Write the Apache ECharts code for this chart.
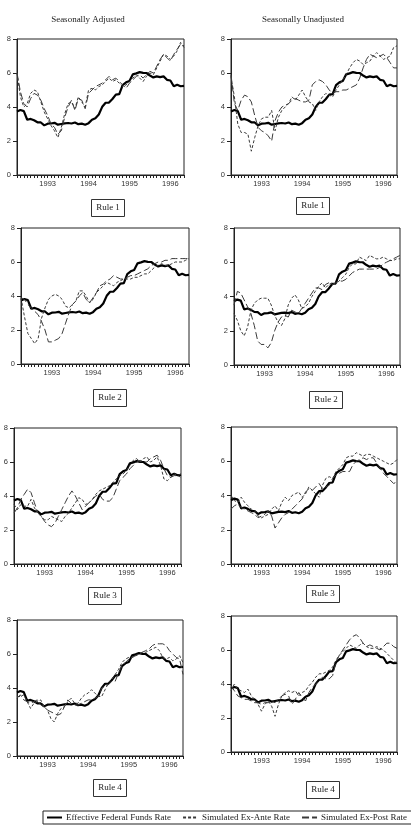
<!DOCTYPE html>
<html>
<head>
<meta charset="utf-8">
<script src="https://cdn.jsdelivr.net/npm/echarts@6/dist/echarts.min.js"></script>
<style>
  html, body { margin: 0; padding: 0; background: #fff; }
  #main { width: 411px; height: 830px; }
</style>
</head>
<body>
<div id="main"></div>
<script>
const months = [
  '1992-04', '1992-05', '1992-06', '1992-07', '1992-08', '1992-09', '1992-10', '1992-11', '1992-12',
  '1993-01', '1993-02', '1993-03', '1993-04', '1993-05', '1993-06', '1993-07', '1993-08', '1993-09', '1993-10', '1993-11', '1993-12',
  '1994-01', '1994-02', '1994-03', '1994-04', '1994-05', '1994-06', '1994-07', '1994-08', '1994-09', '1994-10', '1994-11', '1994-12',
  '1995-01', '1995-02', '1995-03', '1995-04', '1995-05', '1995-06', '1995-07', '1995-08', '1995-09', '1995-10', '1995-11', '1995-12',
  '1996-01', '1996-02', '1996-03', '1996-04', '1996-05'
];
const yTicks = [0, 2, 4, 6, 8];

const fedFunds = [3.73, 3.82, 3.76, 3.25, 3.30, 3.22, 3.10, 3.09, 2.92, 3.02, 3.03, 3.07, 2.96, 3.00, 3.04, 3.06, 3.03, 3.09, 2.99, 3.02, 2.96,
  3.05, 3.25, 3.34, 3.56, 4.01, 4.25, 4.26, 4.47, 4.73, 4.76, 5.29, 5.45, 5.53, 5.92, 5.98, 6.05, 6.01, 6.00, 5.85, 5.74, 5.80, 5.76, 5.80, 5.60,
  5.56, 5.22, 5.31, 5.22, 5.24];

// seasonally adjusted
const saRule1Ante = [6.0, 4.6, 4.0, 4.2, 4.8, 5.0, 4.9, 4.3, 3.7, 3.3, 2.9, 2.6, 2.2, 2.8, 3.6, 4.2, 4.3, 3.9, 4.6, 4.3, 4.0, 5.0, 5.1, 5.0, 5.2,
  5.3, 5.5, 5.7, 5.5, 5.6, 5.4, 5.2, 5.3, 5.5, 5.7, 5.9, 5.7, 5.5, 5.8, 6.0, 5.9, 6.3, 6.7, 7.1, 7.0, 6.8, 7.0, 7.3, 7.8, 7.5];
const saRule1Post = [6.0, 4.9, 4.2, 4.0, 4.5, 4.8, 4.7, 4.4, 3.9, 3.5, 3.0, 2.8, 2.4, 2.6, 3.4, 4.0, 4.4, 3.8, 4.5, 4.4, 3.9, 4.8, 5.0, 5.2, 5.3,
  5.4, 5.6, 5.8, 5.6, 5.7, 5.5, 5.3, 5.1, 5.4, 5.6, 5.8, 5.9, 5.7, 5.9, 6.1, 6.0, 6.4, 6.8, 7.1, 6.9, 6.7, 7.1, 7.4, 7.7, 7.6];
const saRule2Ante = [3.9, 2.8, 1.8, 1.5, 1.2, 1.5, 2.7, 3.3, 3.8, 4.0, 4.1, 4.0, 3.8, 3.4, 3.3, 3.5, 3.7, 4.3, 4.3, 4.0, 3.6, 3.8, 4.2, 4.4, 4.6,
  4.8, 4.7, 4.6, 4.8, 4.9, 5.0, 5.0, 5.0, 5.1, 5.1, 5.2, 5.3, 5.3, 5.5, 5.7, 5.8, 5.9, 5.8, 5.8, 5.9, 6.0, 6.0, 6.0, 6.1, 6.2];
const saRule2Post = [3.9, 3.8, 3.5, 3.3, 3.1, 2.9, 2.5, 2.0, 1.3, 1.3, 1.4, 1.5, 1.8, 2.4, 3.0, 3.5, 3.7, 4.0, 4.2, 3.8, 3.6, 3.9, 4.2, 4.6, 4.7,
  4.9, 5.0, 5.2, 5.1, 5.0, 5.0, 5.1, 5.2, 5.2, 5.3, 5.4, 5.5, 5.6, 5.8, 5.9, 6.0, 6.0, 6.1, 6.1, 6.2, 6.2, 6.2, 6.2, 6.2, 6.2];
const saRule3Ante = [3.5, 3.2, 3.5, 3.4, 3.4, 3.8, 3.3, 3.0, 2.8, 2.6, 2.6, 2.8, 2.7, 2.6, 2.5, 2.8, 3.0, 3.3, 3.6, 3.9, 3.8, 3.5, 3.6, 3.8, 4.1,
  4.3, 4.4, 4.5, 4.6, 4.8, 5.0, 5.2, 5.3, 5.5, 5.8, 6.1, 6.2, 6.0, 6.2, 6.3, 6.0, 6.1, 6.3, 5.8, 5.0, 4.9, 5.1, 5.3, 5.2, 5.1];
const saRule3Post = [3.0, 3.3, 3.8, 4.1, 4.4, 4.2, 3.6, 3.0, 2.8, 2.5, 2.3, 2.2, 2.4, 2.8, 3.2, 3.6, 4.0, 4.3, 4.0, 3.6, 3.2, 3.4, 3.6, 3.8, 4.0,
  4.1, 3.8, 3.7, 3.7, 3.9, 4.4, 4.9, 5.1, 5.3, 5.6, 5.8, 6.0, 6.1, 6.0, 6.0, 6.2, 6.3, 6.4, 6.1, 5.6, 5.2, 5.1, 5.2, 5.2, 5.3];
const saRule4Ante = [3.5, 3.5, 3.6, 3.2, 2.8, 3.1, 3.2, 3.3, 2.9, 2.7, 2.2, 2.0, 2.5, 2.8, 2.9, 3.2, 3.4, 3.1, 3.1, 3.4, 3.6, 3.7, 3.9, 3.7, 3.5,
  3.5, 3.9, 4.3, 4.5, 4.8, 5.1, 5.5, 5.7, 5.8, 5.8, 5.9, 6.0, 6.1, 6.1, 6.2, 6.3, 6.4, 6.2, 5.8, 5.7, 5.8, 5.6, 5.7, 5.9, 5.5];
const saRule4Post = [3.4, 3.6, 3.3, 3.2, 3.1, 3.2, 3.3, 3.0, 2.9, 2.7, 2.6, 2.5, 2.4, 2.5, 2.9, 3.3, 3.1, 3.0, 3.0, 3.1, 3.2, 3.3, 3.3, 3.4, 3.5,
  4.0, 4.1, 4.2, 4.4, 4.4, 4.9, 5.3, 5.5, 5.7, 5.8, 5.9, 6.0, 6.1, 6.2, 6.3, 6.5, 6.6, 6.6, 6.6, 6.5, 6.2, 6.0, 5.8, 5.7, 4.8];

// seasonally unadjusted
const suRule1Ante = [5.8, 4.6, 3.0, 2.5, 2.5, 2.4, 1.4, 2.2, 2.9, 3.3, 3.4, 3.4, 3.8, 2.6, 3.4, 3.8, 4.0, 4.2, 4.6, 4.4, 4.7, 5.0, 4.6, 4.3, 4.2,
  3.8, 4.3, 4.6, 4.8, 4.7, 4.6, 5.0, 5.3, 5.6, 5.9, 6.3, 6.6, 6.8, 6.7, 6.5, 6.6, 6.7, 7.0, 7.2, 7.0, 6.8, 6.9, 7.0, 7.5, 7.6];
const suRule1Post = [5.9, 4.2, 3.8, 4.4, 4.7, 4.6, 4.3, 3.5, 2.8, 2.6, 2.5, 2.3, 2.0, 3.2, 3.7, 4.0, 4.1, 4.2, 4.4, 4.5, 4.4, 4.3, 4.3, 4.4, 5.3,
  5.5, 5.6, 5.5, 5.3, 5.0, 4.8, 4.9, 4.9, 5.0, 5.0, 5.1, 5.2, 5.3, 5.7, 6.3, 6.8, 7.1, 7.0, 6.9, 7.0, 7.1, 6.9, 6.6, 6.3, 6.3];
const suRule2Ante = [3.0, 2.6, 2.0, 1.7, 2.2, 3.2, 3.6, 3.8, 3.9, 3.9, 3.9, 3.5, 2.9, 2.5, 2.3, 2.7, 3.5, 3.9, 4.1, 3.8, 3.3, 3.4, 3.6, 4.0, 4.3,
  4.6, 4.8, 4.5, 4.7, 4.8, 4.7, 4.9, 5.1, 5.3, 5.7, 5.9, 5.9, 6.3, 6.2, 6.1, 6.4, 6.3, 6.2, 6.2, 6.3, 6.2, 6.1, 6.1, 6.2, 6.2];
const suRule2Post = [3.5, 4.3, 4.2, 3.8, 3.4, 3.0, 2.3, 1.4, 1.2, 1.2, 1.0, 1.3, 2.0, 2.5, 2.8, 2.9, 2.8, 3.2, 3.1, 3.0, 3.3, 3.6, 3.9, 4.2, 4.5,
  4.5, 4.4, 4.7, 4.8, 4.7, 4.8, 4.9, 4.9, 5.0, 5.2, 5.4, 5.5, 5.6, 5.6, 5.6, 5.6, 5.6, 5.6, 5.7, 5.9, 6.0, 6.1, 6.2, 6.3, 6.4];
const suRule3Ante = [4.0, 3.7, 3.6, 3.9, 3.6, 3.4, 3.2, 3.1, 2.8, 2.7, 2.8, 2.9, 3.2, 3.4, 3.1, 3.6, 3.9, 3.7, 4.0, 4.1, 4.2, 3.9, 4.1, 4.5, 4.3,
  4.1, 3.9, 4.6, 5.0, 5.1, 5.0, 5.4, 5.6, 5.8, 6.2, 6.3, 6.3, 6.5, 6.4, 6.3, 6.4, 6.4, 6.3, 6.2, 6.1, 6.0, 5.9, 5.8, 5.9, 6.1];
const suRule3Post = [3.2, 3.4, 3.5, 3.3, 3.2, 3.1, 3.0, 2.9, 2.7, 2.8, 2.9, 3.1, 2.8, 2.1, 2.4, 2.7, 2.9, 3.0, 3.2, 3.4, 3.6, 3.8, 4.2, 4.4, 4.3,
  4.5, 4.7, 4.4, 4.5, 4.6, 5.0, 5.2, 5.3, 5.4, 5.4, 5.4, 5.8, 6.0, 6.1, 6.2, 6.1, 6.2, 6.2, 5.9, 5.6, 5.3, 5.1, 4.9, 4.7, 4.8];
const suRule4Ante = [3.6, 4.0, 3.7, 3.6, 3.5, 3.7, 3.3, 3.1, 2.8, 2.4, 2.8, 3.0, 2.7, 2.1, 2.8, 3.3, 3.5, 3.6, 3.5, 3.6, 3.3, 3.5, 3.6, 3.9, 4.1,
  4.4, 4.6, 4.6, 4.7, 4.8, 5.0, 5.4, 5.7, 5.9, 6.1, 6.3, 6.2, 6.1, 6.3, 6.4, 6.2, 6.1, 6.1, 6.2, 6.1, 6.0, 5.8, 5.6, 5.4, 5.2];
const suRule4Post = [3.9, 3.6, 3.3, 3.2, 3.1, 3.1, 3.0, 2.9, 2.9, 2.8, 2.9, 2.9, 3.0, 2.9, 3.1, 3.3, 3.4, 3.3, 2.8, 3.1, 3.5, 3.2, 3.0, 3.5, 3.8,
  4.0, 4.2, 4.4, 4.3, 4.3, 4.5, 5.3, 5.7, 6.0, 6.3, 6.6, 6.8, 6.9, 6.7, 6.4, 6.2, 6.3, 6.2, 6.1, 6.0, 6.2, 6.4, 6.4, 6.2, 6.1];

const panels = [
  { left: 17, top: 39, width: 167, height: 136, ante: saRule1Ante, post: saRule1Post, rule: 'Rule 1', rx: 103, ry: 199 },
  { left: 231, top: 39, width: 166, height: 136, ante: suRule1Ante, post: suRule1Post, rule: 'Rule 1', rx: 308, ry: 197 },
  { left: 21, top: 228, width: 168, height: 136, ante: saRule2Ante, post: saRule2Post, rule: 'Rule 2', rx: 105, ry: 389 },
  { left: 234, top: 228, width: 166, height: 137, ante: suRule2Ante, post: suRule2Post, rule: 'Rule 2', rx: 321, ry: 391 },
  { left: 14, top: 428, width: 167, height: 136, ante: saRule3Ante, post: saRule3Post, rule: 'Rule 3', rx: 100, ry: 587 },
  { left: 231, top: 427, width: 166, height: 137, ante: suRule3Ante, post: suRule3Post, rule: 'Rule 3', rx: 318, ry: 585 },
  { left: 17, top: 620, width: 166, height: 136, ante: saRule4Ante, post: saRule4Post, rule: 'Rule 4', rx: 105, ry: 779 },
  { left: 231, top: 616, width: 166, height: 136, ante: suRule4Ante, post: suRule4Post, rule: 'Rule 4', rx: 318, ry: 781 }
];

const serif = '"Liberation Serif", "DejaVu Serif", serif';
const sans = '"Liberation Sans", Arial, sans-serif';
const dashColor = '#3a3a3a';

let chartDom = document.getElementById('main');
let myChart = echarts.init(chartDom);

let grids = [], xAxes = [], yAxes = [], series = [];
let titles = [
  { text: 'Seasonally Adjusted', left: 88, top: 15, textAlign: 'center', padding: 0,
    textStyle: { fontFamily: serif, fontSize: 9, fontWeight: 'normal', color: '#222' } },
  { text: 'Seasonally Unadjusted', left: 303, top: 15, textAlign: 'center', padding: 0,
    textStyle: { fontFamily: serif, fontSize: 9, fontWeight: 'normal', color: '#222' } }
];

panels.forEach(function (p, i) {
  grids.push({
    left: p.left, top: p.top, width: p.width, height: p.height,
    show: true, borderColor: '#222', borderWidth: 1, backgroundColor: 'transparent'
  });
  xAxes.push({
    type: 'category',
    gridIndex: i,
    data: months,
    boundaryGap: false,
    axisLine: { lineStyle: { color: '#222', width: 1 } },
    axisTick: { interval: 0, length: 3, lineStyle: { color: '#222' } },
    axisLabel: {
      interval: function (idx, val) { return val.slice(5) === '01'; },
      formatter: function (val) { return val.slice(0, 4); },
      fontFamily: sans, fontSize: 7.5, color: '#333', margin: 5
    },
    splitLine: { show: false }
  });
  yAxes.push({
    type: 'value',
    gridIndex: i,
    min: yTicks[0],
    max: yTicks[yTicks.length - 1],
    interval: 2,
    axisLine: { show: true, lineStyle: { color: '#222', width: 1 } },
    axisTick: { show: true, length: 4, lineStyle: { color: '#222' } },
    axisLabel: { fontFamily: sans, fontSize: 7.5, color: '#333', margin: 6 },
    splitLine: { show: false }
  });
  series.push({
    name: 'Effective Federal Funds Rate', type: 'line', xAxisIndex: i, yAxisIndex: i,
    data: fedFunds, symbol: 'none', z: 3,
    lineStyle: { color: '#000', width: 2.2 }, itemStyle: { color: '#000' }
  });
  series.push({
    name: 'Simulated Ex-Ante Rate', type: 'line', xAxisIndex: i, yAxisIndex: i,
    data: p.ante, symbol: 'none',
    lineStyle: { color: dashColor, width: 1, type: [3, 2] }, itemStyle: { color: dashColor }
  });
  series.push({
    name: 'Simulated Ex-Post Rate', type: 'line', xAxisIndex: i, yAxisIndex: i,
    data: p.post, symbol: 'none',
    lineStyle: { color: dashColor, width: 1, type: [7, 3] }, itemStyle: { color: dashColor }
  });
  titles.push({
    text: p.rule, left: p.rx, top: p.ry, textAlign: 'center',
    padding: [4, 5], borderColor: '#333', borderWidth: 1,
    textStyle: { fontFamily: serif, fontSize: 9, lineHeight: 10, fontWeight: 'normal', color: '#222' }
  });
});

let option = {
  animation: false,
  backgroundColor: '#fff',
  title: titles,
  legend: {
    left: 43,
    top: 811,
    width: 420,
    padding: [2, 6, 2, 3],
    itemWidth: 15,
    itemHeight: 8,
    itemGap: 11,
    borderColor: '#222',
    borderWidth: 1,
    itemStyle: { color: 'rgba(0,0,0,0)', opacity: 0, borderWidth: 0 },
    data: ['Effective Federal Funds Rate', 'Simulated Ex-Ante Rate', 'Simulated Ex-Post Rate'],
    textStyle: { fontFamily: serif, fontSize: 9, color: '#222', padding: [0, 0, 0, -1] }
  },
  grid: grids,
  xAxis: xAxes,
  yAxis: yAxes,
  series: series
};

myChart.setOption(option);
</script>
</body>
</html>
